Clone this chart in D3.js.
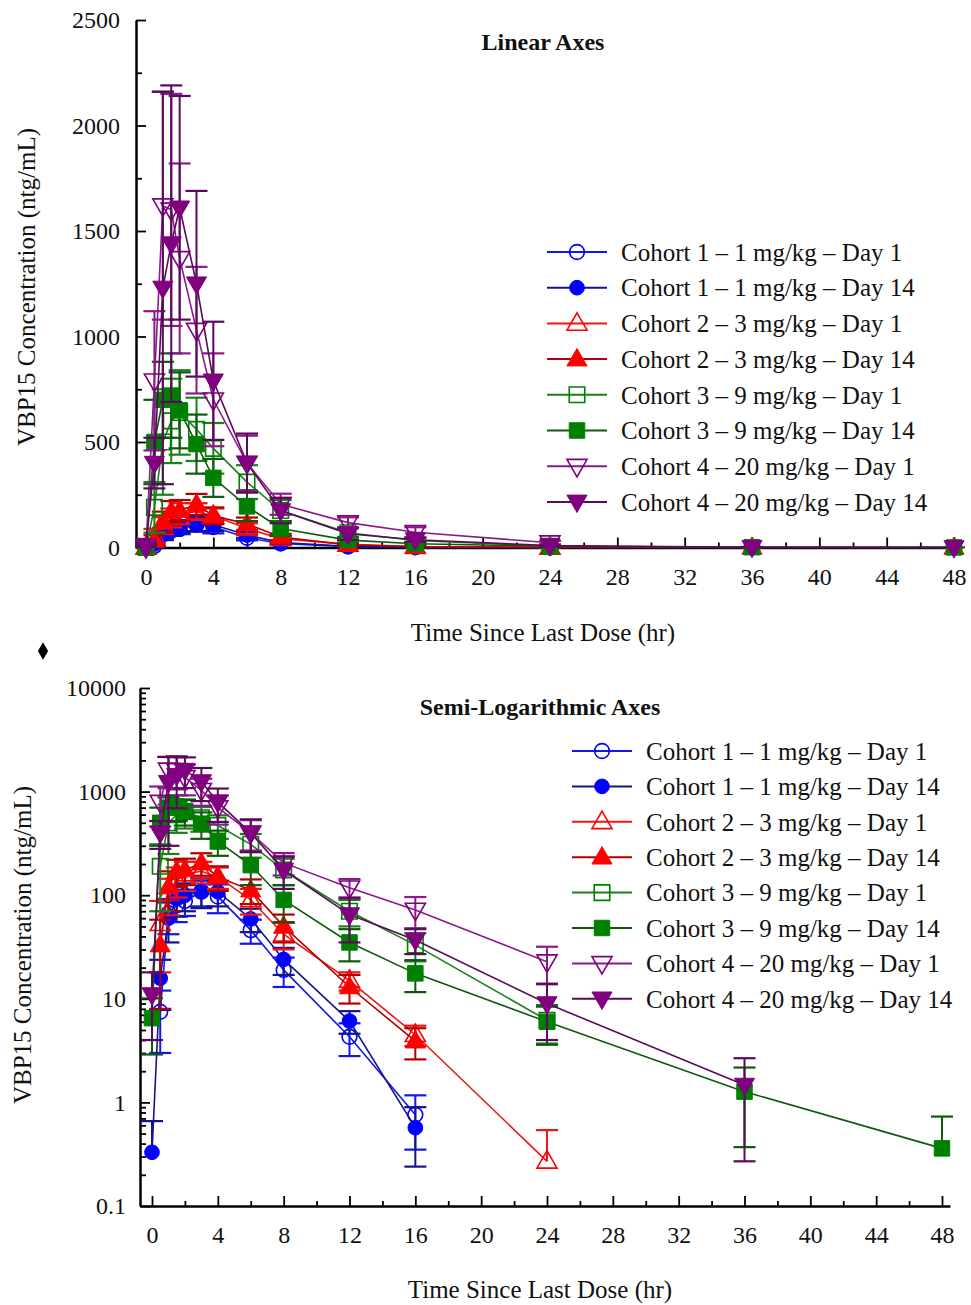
<!DOCTYPE html>
<html>
<head>
<meta charset="utf-8">
<script src="https://cdn.jsdelivr.net/npm/d3@7"></script>
<style>
  html, body { margin: 0; padding: 0; background: #fff; }
  svg { display: block; }
  text { font-family: "Liberation Serif", "Times New Roman", serif; fill: #111; }
</style>
</head>
<body>
<svg id="chart" width="971" height="1305"></svg>
<script>
// ---------------- DATA ----------------
const timesDay1  = [0, 0.5, 1, 1.5, 2, 3, 4, 6, 8, 12, 16, 24];
const timesDay14 = [0, 0.5, 1, 1.5, 2, 3, 4, 6, 8, 12, 16, 24, 36, 48];

const c1d1Mean  = [0, 7.5, 67, 80, 88, 108, 97, 46, 19, 4.3, 0.76, 0];
const c1d1Sd    = [0, 4.5, 25, 25, 25, 30, 30, 12, 6, 1.5, 0.41, 0];
const c1d14Mean = [0.33, 15.8, 60, 92, 100, 110, 108, 59, 24, 6.1, 0.57, 0, 0, 0];
const c1d14Sd   = [0.33, 8, 25, 30, 30, 35, 30, 15, 7, 1.5, 0.33, 0, 0, 0];

const c2d1Mean  = [0, 53, 104, 140, 160, 170, 150, 90, 42, 15, 4.5, 0.27];
const c2d1Sd    = [0, 35, 40, 45, 50, 40, 35, 25, 12, 3, 1, 0.27];
const c2d14Mean = [0, 33, 120, 170, 175, 204, 150, 112, 50, 13, 3.9, 0, 0, 0];
const c2d14Sd   = [0, 25, 50, 50, 50, 50, 40, 30, 15, 4, 1.3, 0, 0, 0];

const c3d1Mean  = [0, 190, 500, 600, 640, 560, 470, 310, 175, 70, 33, 6.2];
const c3d1Sd    = [0, 120, 250, 200, 200, 150, 120, 80, 50, 20, 10, 2.5];
const c3d14Mean = [6.5, 500, 700, 720, 650, 490, 330, 195, 90, 35, 17.6, 6.0, 1.27, 0.36];
const c3d14Sd   = [3.6, 200, 180, 200, 180, 140, 90, 70, 35, 12, 6, 2.4, 0.9, 0.37];

const c4d1Mean  = [0, 790, 1620, 1600, 1370, 1030, 700, 400, 205, 118, 72, 22.8];
const c4d1Sd    = [0, 330, 540, 550, 450, 300, 220, 130, 50, 25, 24, 9];
const c4d14Mean = [11, 400, 1230, 1440, 1610, 1250, 790, 400, 175, 65, 37, 9, 1.47, 0];
const c4d14Sd   = [7, 120, 930, 750, 530, 440, 280, 140, 60, 30, 10, 5, 1.2, 0];

const seriesNames = [
  "Cohort 1 – 1 mg/kg – Day 1", "Cohort 1 – 1 mg/kg – Day 14",
  "Cohort 2 – 3 mg/kg – Day 1", "Cohort 2 – 3 mg/kg – Day 14",
  "Cohort 3 – 9 mg/kg – Day 1", "Cohort 3 – 9 mg/kg – Day 14",
  "Cohort 4 – 20 mg/kg – Day 1", "Cohort 4 – 20 mg/kg – Day 14"
];
const xTickLabels = [0, 4, 8, 12, 16, 20, 24, 28, 32, 36, 40, 44, 48];
const linearYTicks = [0, 500, 1000, 1500, 2000, 2500];
const logYTicks = [0.1, 1, 10, 100, 1000, 10000];

// ---------------- SERIES TABLE ----------------
const markerColors = ["#0000ff", "#0000ff", "#ff0000", "#ff0000", "#008000", "#008000", "#800080", "#800080"];
const lineColors   = ["#1515ee", "#14148c", "#ee1515", "#b00000", "#1a801a", "#0d5a0d", "#8a1a8a", "#5a0a5a"];
const shapes = ["circle", "circle", "up", "up", "square", "square", "down", "down"];
const means = [c1d1Mean, c1d14Mean, c2d1Mean, c2d14Mean, c3d1Mean, c3d14Mean, c4d1Mean, c4d14Mean];
const sds   = [c1d1Sd, c1d14Sd, c2d1Sd, c2d14Sd, c3d1Sd, c3d14Sd, c4d1Sd, c4d14Sd];

const series = seriesNames.map((name, i) => {
  const times = (i % 2 === 0) ? timesDay1 : timesDay14;
  return {
    name, shape: shapes[i], filled: i % 2 === 1,
    color: markerColors[i], lineColor: lineColors[i],
    points: times.map((t, j) => ({ t, mean: means[i][j], sd: sds[i][j] }))
  };
});

// ---------------- DRAWING ----------------
const svg = d3.select("#chart");

function symbolPath(shape) {
  if (shape === "circle") return d3.symbol().type(d3.symbolCircle).size(170)();
  if (shape === "square") return d3.symbol().type(d3.symbolSquare).size(240)();
  return d3.symbol().type(d3.symbolTriangle).size(175)();
}

function drawMarker(g, s, x, y) {
  g.append("path")
    .attr("d", symbolPath(s.shape))
    .attr("transform", `translate(${x},${y})` + (s.shape === "down" ? " rotate(180)" : "") + (s.shape === "up" || s.shape === "down" ? " translate(0,1)" : ""))
    .attr("stroke", s.color)
    .attr("stroke-width", s.filled ? 1 : 1.6)
    .attr("fill", s.filled ? s.color : "none");
}

function drawPanel(cfg) {
  const g = svg.append("g");
  const x = d3.scaleLinear().domain(cfg.xDomain).range(cfg.xRange);
  const y = cfg.log
    ? d3.scaleLog().domain([0.1, 10000]).range(cfg.yRange)
    : d3.scaleLinear().domain([0, 2500]).range(cfg.yRange);
  const yBase = cfg.yRange[0];
  const xLeft = cfg.xRange[0];

  // X axis (major ticks with labels, minor ticks)
  const xMinor = d3.range(2, 48, 4);
  g.append("g").attr("transform", `translate(0,${yBase})`)
    .call(d3.axisBottom(x).tickValues(xMinor).tickSize(-5).tickFormat(""))
    .call(a => a.select(".domain").remove())
    .call(a => a.selectAll("line").attr("stroke", "#000").attr("stroke-width", 1.8));
  const xa = g.append("g").attr("transform", `translate(0,${yBase})`)
    .call(d3.axisBottom(x).tickValues(xTickLabels).tickSize(-10).tickSizeOuter(0).tickPadding(cfg.xPad).tickFormat(d3.format("d")));
  xa.select(".domain").attr("stroke", "#000").attr("stroke-width", 2.5);
  xa.selectAll("line").attr("stroke", "#000").attr("stroke-width", 1.8);
  xa.selectAll("text").attr("font-size", 24).attr("font-family", "Liberation Serif").attr("fill", "#111");

  // Y axis
  let minor;
  if (cfg.log) {
    minor = [];
    [0.1, 1, 10, 100, 1000].forEach(b => { for (let k = 2; k <= 9; k++) minor.push(b * k); });
  } else {
    minor = d3.range(250, 2500, 500);
  }
  g.append("g").attr("transform", `translate(${xLeft},0)`)
    .call(d3.axisLeft(y).tickValues(minor).tickSize(-6).tickFormat(""))
    .call(a => a.select(".domain").remove())
    .call(a => a.selectAll("line").attr("stroke", "#000").attr("stroke-width", 1.8));
  const ya = g.append("g").attr("transform", `translate(${xLeft},0)`)
    .call(d3.axisLeft(y).tickValues(cfg.log ? logYTicks : linearYTicks).tickSize(-10).tickSizeOuter(0)
      .tickPadding(cfg.yPad).tickFormat(d => cfg.log ? (d < 1 ? "0.1" : d3.format("d")(d)) : d3.format("d")(d)));
  ya.select(".domain").attr("stroke", "#000").attr("stroke-width", 2.5);
  ya.selectAll("line").attr("stroke", "#000").attr("stroke-width", 1.8);
  ya.selectAll("text").attr("font-size", 24).attr("font-family", "Liberation Serif").attr("fill", "#111");

  // Titles
  g.append("text").attr("x", cfg.titlePos[0]).attr("y", cfg.titlePos[1])
    .attr("text-anchor", "middle").attr("font-size", 24).attr("font-weight", "bold").text(cfg.title);
  g.append("text").attr("x", cfg.xTitlePos[0]).attr("y", cfg.xTitlePos[1])
    .attr("text-anchor", "middle").attr("font-size", 25).text("Time Since Last Dose (hr)");
  g.append("text").attr("transform", `translate(${cfg.yTitlePos[0]},${cfg.yTitlePos[1]}) rotate(-90)`)
    .attr("text-anchor", "middle").attr("font-size", 25).text("VBP15 Concentration (ntg/mL)");

  // Series
  const yMin = cfg.log ? 0.1 : 0;
  series.forEach(s => {
    const sg = g.append("g");
    const pts = s.points.filter(p => cfg.log ? p.mean > 0 : true);
    // error bars
    pts.forEach(p => {
      if (p.sd <= 0) return;
      const cx = x(p.t);
      const up = p.mean + p.sd;
      const lo = p.mean - p.sd;
      const yUp = y(up);
      let yLo = y(p.mean);
      let loCap = false;
      if (lo > yMin) { yLo = y(lo); loCap = true; }
      else if (!cfg.log) { yLo = y(0); }
      sg.append("line").attr("x1", cx).attr("x2", cx).attr("y1", yUp).attr("y2", yLo)
        .attr("stroke", s.lineColor).attr("stroke-width", 2);
      sg.append("line").attr("x1", cx - 11).attr("x2", cx + 11).attr("y1", yUp).attr("y2", yUp)
        .attr("stroke", s.lineColor).attr("stroke-width", 2.2);
      if (loCap) sg.append("line").attr("x1", cx - 11).attr("x2", cx + 11).attr("y1", yLo).attr("y2", yLo)
        .attr("stroke", s.lineColor).attr("stroke-width", 2.2);
    });
    // line
    sg.append("path").datum(pts)
      .attr("d", d3.line().x(p => x(p.t)).y(p => y(p.mean)))
      .attr("fill", "none").attr("stroke", s.lineColor).attr("stroke-width", 1.6);
    // markers
    pts.forEach(p => drawMarker(sg, s, x(p.t), y(p.mean)));
  });

  // Legend
  const lg = g.append("g");
  series.forEach((s, i) => {
    const ly = cfg.legend.y0 + i * cfg.legend.dy;
    lg.append("line").attr("x1", cfg.legend.x0).attr("x2", cfg.legend.x0 + 60)
      .attr("y1", ly).attr("y2", ly).attr("stroke", s.lineColor).attr("stroke-width", 2);
    drawMarker(lg, s, cfg.legend.x0 + 30, ly);
    lg.append("text").attr("x", cfg.legend.x0 + 74).attr("y", ly).attr("dy", "0.35em")
      .attr("font-size", 25).text(s.name);
  });
}

drawPanel({
  log: false,
  xDomain: [-0.594, 48.475], xRange: [136, 962],
  yRange: [547.5, 20],
  xPad: 20, yPad: 16,
  title: "Linear Axes", titlePos: [543, 50],
  xTitlePos: [543, 641], yTitlePos: [35, 287],
  legend: { x0: 547, y0: 252, dy: 35.7 }
});

drawPanel({
  log: true,
  xDomain: [-0.729, 48.486], xRange: [140, 950],
  yRange: [1206, 688],
  xPad: 20, yPad: 14,
  title: "Semi-Logarithmic Axes", titlePos: [540, 715],
  xTitlePos: [540, 1298], yTitlePos: [31, 945],
  legend: { x0: 572, y0: 751, dy: 35.4 }
});

// small diamond marker between panels
svg.append("path").attr("d", d3.symbol().type(d3.symbolDiamond).size(90)())
  .attr("transform", "translate(43,651)").attr("fill", "#000");
</script>
</body>
</html>
